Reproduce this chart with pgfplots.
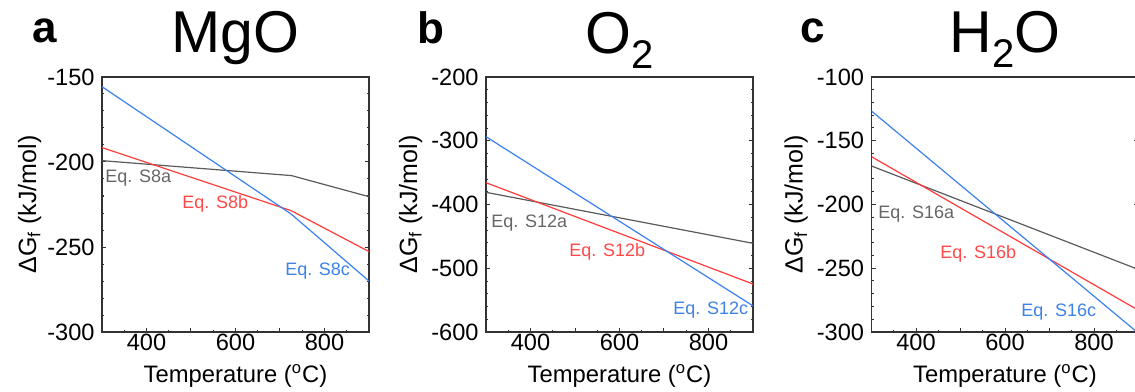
\documentclass[border=0pt]{standalone}
\usepackage{fontspec}
\setmainfont{Liberation Sans}
\usepackage{pgfplots}
\pgfplotsset{compat=1.18}
\definecolor{cgray}{HTML}{5A5A5A}
\definecolor{cred}{HTML}{FF3B3B}
\definecolor{cblue}{HTML}{3A80F0}
\definecolor{tgray}{HTML}{666666}
\definecolor{tred}{HTML}{FF4848}
\definecolor{tblue}{HTML}{3D82E6}
\pgfplotsset{panel/.style={
  scale only axis, width=133.5pt, height=127.5pt,
  clip mode=individual,
  xmin=300, xmax=900,
  xtick={300,400,...,900}, xticklabels={,400,,600,,800,},
  minor x tick num=1, minor y tick num=4,
  tick align=inside, xtick pos=left, ytick pos=both,
  major tick length=2pt, minor tick length=1.1pt,
  every tick/.style={black!80, line width=0.5pt},
  axis line style={black!80, line width=0.8pt},
  tick label style={font=\fontsize{11.8}{13}\selectfont},
  xticklabel style={inner sep=0pt, yshift=-1pt},
  yticklabel style={inner sep=0pt, xshift=-3.5pt},
  xlabel={Temperature (\textsuperscript{o}C)},
  ylabel={ΔG\textsubscript{f} (kJ/mol)},
  every axis x label/.style={at={(axis description cs:0.5,0)}, anchor=base, yshift=-25pt, font=\fontsize{11.9}{14}\selectfont},
  every axis title/.style={at={(axis description cs:0.5,1)}, anchor=base, yshift=12pt, font=\fontsize{29.5}{31}\selectfont},
  every axis plot/.append style={line width=0.6pt},
  anchor=south west,
}}
\begin{document}
\begin{tikzpicture}
% ---------- a: MgO ----------
\begin{axis}[panel, at={(51pt,29.5pt)},
  ymin=-300, ymax=-150,
  ytick={-300,-250,-200,-150}, yticklabels={-300,-250,-200,-150},
  every axis y label/.style={at={(axis description cs:-0.247,0.5)}, rotate=90, anchor=base, font=\fontsize{12.5}{14}\selectfont},
  title={MgO}]
\addplot[cgray] coordinates {(300,-199.2) (726,-208) (900,-220.4)};
\addplot[cred] coordinates {(300,-191.5) (725,-228.6) (900,-252.7)};
\addplot[cblue] coordinates {(300,-155.7) (725,-230.6) (900,-270)};
\node[anchor=base west, inner sep=0pt, text=tgray, font=\fontsize{9}{10}\selectfont] at (axis cs:306.7,-211.8) {Eq. S8a};
\node[anchor=base west, inner sep=0pt, text=tred, font=\fontsize{9}{10}\selectfont] at (axis cs:479.8,-227.1) {Eq. S8b};
\node[anchor=base west, inner sep=0pt, text=tblue, font=\fontsize{9}{10}\selectfont] at (axis cs:711,-266.5) {Eq. S8c};
\node[anchor=base west, xshift=-35pt, yshift=17pt, inner sep=0pt, font=\fontsize{22}{24}\selectfont\bfseries] at (rel axis cs:0,1) {a};
\end{axis}
% ---------- b: O2 ----------
\begin{axis}[panel, at={(243pt,29.5pt)},
  ymin=-600, ymax=-200,
  ytick={-600,-500,-400,-300,-200}, yticklabels={-600,-500,-400,-300,-200},
  every axis y label/.style={at={(axis description cs:-0.258,0.5)}, rotate=90, anchor=base, font=\fontsize{12.5}{14}\selectfont},
  title={O\raisebox{-7.5pt}{\fontsize{20}{20}\selectfont 2}}]
\addplot[cgray] coordinates {(300,-380.9) (900,-460.9)};
\addplot[cred] coordinates {(300,-365.8) (900,-524.7)};
\addplot[cblue] coordinates {(300,-293.6) (900,-559)};
\node[anchor=base west, inner sep=0pt, text=tgray, font=\fontsize{9}{10}\selectfont] at (axis cs:311.2,-435.3) {Eq. S12a};
\node[anchor=base west, inner sep=0pt, text=tred, font=\fontsize{9}{10}\selectfont] at (axis cs:486.5,-480.8) {Eq. S12b};
\node[anchor=base west, inner sep=0pt, text=tblue, font=\fontsize{9}{10}\selectfont] at (axis cs:720.2,-573.3) {Eq. S12c};
\node[anchor=base west, xshift=-34.5pt, yshift=17pt, inner sep=0pt, font=\fontsize{22}{24}\selectfont\bfseries] at (rel axis cs:0,1) {b};
\end{axis}
% ---------- c: H2O ----------
\begin{axis}[panel, at={(435.75pt,29.5pt)},
  ymin=-300, ymax=-100,
  ytick={-300,-250,-200,-150,-100}, yticklabels={-300,-250,-200,-150,-100},
  every axis y label/.style={at={(axis description cs:-0.258,0.5)}, rotate=90, anchor=base, font=\fontsize{12.5}{14}\selectfont},
  title={H\raisebox{-7.5pt}{\fontsize{20}{20}\selectfont 2}O}]
\addplot[cgray] coordinates {(300,-169.8) (900,-251)};
\addplot[cred] coordinates {(300,-162.5) (900,-283)};
\addplot[cblue] coordinates {(300,-126.7) (900,-301)};
\node[anchor=base west, inner sep=0pt, text=tgray, font=\fontsize{9}{10}\selectfont] at (axis cs:314.6,-210.6) {Eq. S16a};
\node[anchor=base west, inner sep=0pt, text=tred, font=\fontsize{9}{10}\selectfont] at (axis cs:453.9,-242.0) {Eq. S16b};
\node[anchor=base west, inner sep=0pt, text=tblue, font=\fontsize{9}{10}\selectfont] at (axis cs:636,-288.2) {Eq. S16c};
\node[anchor=base west, xshift=-35.5pt, yshift=17pt, inner sep=0pt, font=\fontsize{22}{24}\selectfont\bfseries] at (rel axis cs:0,1) {c};
\end{axis}
\pgfresetboundingbox
\path[use as bounding box] (0,0) rectangle (567.5pt,195.5pt);
\end{tikzpicture}
\end{document}
